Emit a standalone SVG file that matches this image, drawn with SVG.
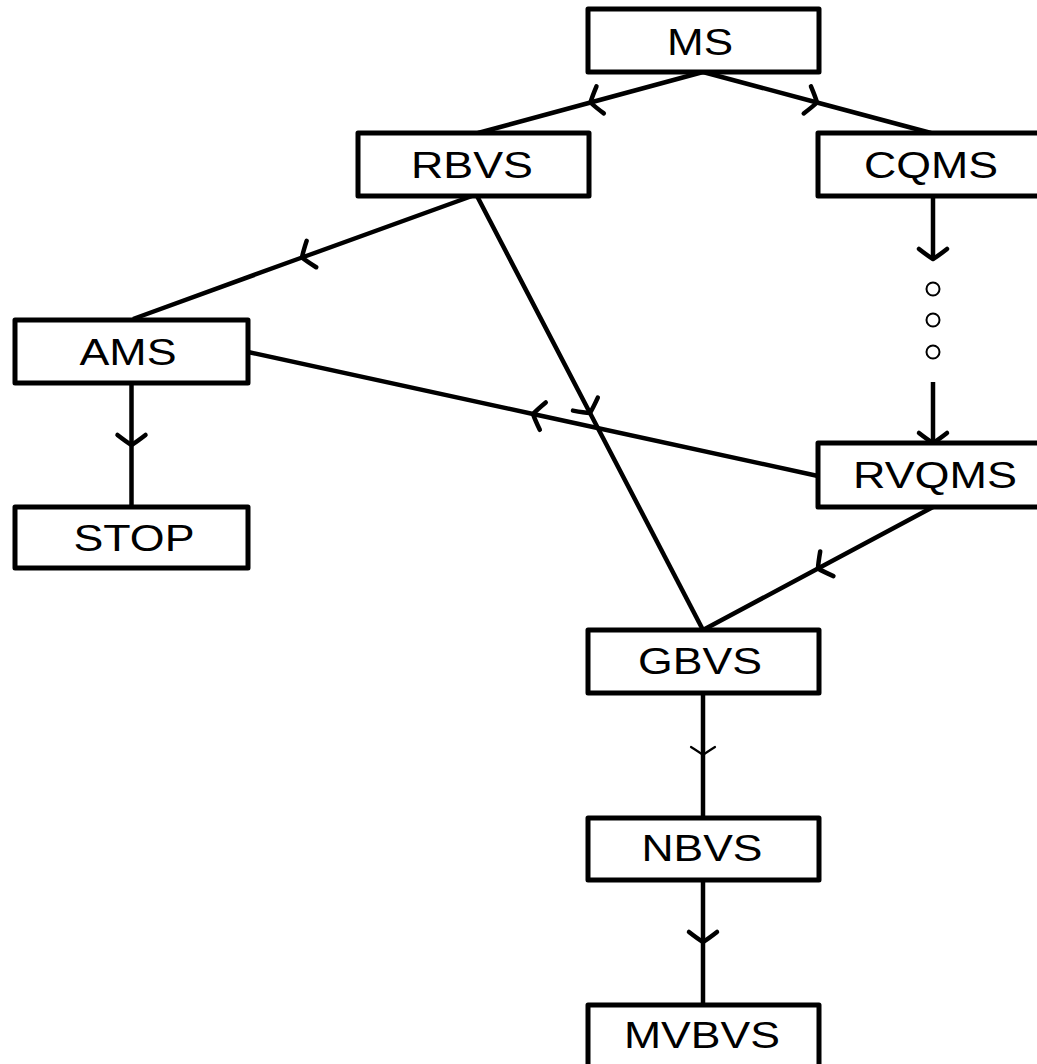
<svg xmlns="http://www.w3.org/2000/svg" width="1037" height="1064" viewBox="0 0 1037 1064">
<style>
.box{fill:#fff;stroke:#000;stroke-width:5;stroke-linejoin:round}
.lbl{font-family:"Liberation Sans",Arial,sans-serif;font-size:37px;fill:#000;text-anchor:middle}
.edge{fill:none;stroke:#000;stroke-width:4.5;stroke-linecap:butt}
.dot{fill:#fff;stroke:#000;stroke-width:2}
</style>
<defs>
<marker id="ah" markerUnits="userSpaceOnUse" markerWidth="34" markerHeight="36" viewBox="-17 -18 34 36" refX="0" refY="0" orient="auto">
<path d="M-10,-14 Q-3,-5 0,0 Q-3,5 -10,14" fill="none" stroke="#000" stroke-width="4.5" stroke-linecap="round" stroke-linejoin="round"/>
</marker>
<marker id="ahThin" markerUnits="userSpaceOnUse" markerWidth="34" markerHeight="36" viewBox="-17 -18 34 36" refX="0" refY="0" orient="auto">
<path d="M-8,-12 Q-3,-4 0,0 Q-3,4 -8,12" fill="none" stroke="#000" stroke-width="2.2" stroke-linecap="round" stroke-linejoin="round"/>
</marker>
</defs>
<g id="connectors">
<path class="edge" d="M703,72 L590.5,102.5 L478,133" marker-mid="url(#ah)"/>
<path class="edge" d="M703,72 L817,102.5 L931,133" marker-mid="url(#ah)"/>
<path class="edge" d="M472,196 L302,257.5 L133,319" marker-mid="url(#ah)"/>
<path class="edge" d="M477,196 L590,413 L703,630" marker-mid="url(#ah)"/>
<path class="edge" d="M818,476 L533,414 L248,352" marker-mid="url(#ah)"/>
<path class="edge" d="M933,507 L818,568.5 L703,630" marker-mid="url(#ah)"/>
<path class="edge" d="M131.5,383 L131.5,445 L131.5,507" marker-mid="url(#ah)"/>
<path class="edge" d="M703,692 L703,755 L703,818" marker-mid="url(#ahThin)"/>
<path class="edge" d="M703,880 L703,942 L703,1005" marker-mid="url(#ah)"/>
<path class="edge" d="M933,196 L933,259" marker-end="url(#ah)"/>
<path class="edge" d="M933,382 L933,443" marker-end="url(#ah)"/>
<circle class="dot" cx="933" cy="289" r="6.5"/>
<circle class="dot" cx="933" cy="320" r="6.5"/>
<circle class="dot" cx="933" cy="352" r="6.5"/>
</g>
<g id="MS"><rect class="box" x="588" y="9" width="231" height="63"/><text class="lbl" x="700" y="55" textLength="66" lengthAdjust="spacingAndGlyphs">MS</text></g>
<g id="RBVS"><rect class="box" x="358" y="133" width="231" height="63"/><text class="lbl" x="472" y="178" textLength="122" lengthAdjust="spacingAndGlyphs">RBVS</text></g>
<g id="CQMS"><rect class="box" x="818" y="133" width="231" height="63"/><text class="lbl" x="931" y="178" textLength="134" lengthAdjust="spacingAndGlyphs">CQMS</text></g>
<g id="AMS"><rect class="box" x="15" y="320" width="233" height="63"/><text class="lbl" x="128" y="365" textLength="97" lengthAdjust="spacingAndGlyphs">AMS</text></g>
<g id="STOP"><rect class="box" x="15" y="507" width="233" height="61"/><text class="lbl" x="134" y="551" textLength="121" lengthAdjust="spacingAndGlyphs">STOP</text></g>
<g id="RVQMS"><rect class="box" x="818" y="443" width="231" height="64"/><text class="lbl" x="935" y="488" textLength="164" lengthAdjust="spacingAndGlyphs">RVQMS</text></g>
<g id="GBVS"><rect class="box" x="588" y="630" width="231" height="63"/><text class="lbl" x="700" y="674" textLength="124" lengthAdjust="spacingAndGlyphs">GBVS</text></g>
<g id="NBVS"><rect class="box" x="588" y="818" width="231" height="62"/><text class="lbl" x="702" y="861" textLength="121" lengthAdjust="spacingAndGlyphs">NBVS</text></g>
<g id="MVBVS"><rect class="box" x="588" y="1005" width="231" height="63"/><text class="lbl" x="702" y="1048" textLength="156" lengthAdjust="spacingAndGlyphs">MVBVS</text></g>
</svg>
